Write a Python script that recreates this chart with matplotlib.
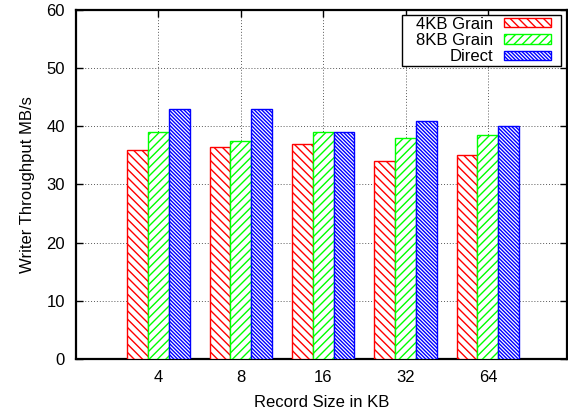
import numpy as np
import matplotlib
matplotlib.use('Agg')
import matplotlib.pyplot as plt
from matplotlib.path import Path

plt.rcParams['font.family'] = ['Liberation Sans', 'DejaVu Sans']
plt.rcParams['hatch.linewidth'] = 1.0

record_sizes = ['4', '8', '16', '32', '64']
grain_4kb = [36, 36.5, 37, 34, 35]
grain_8kb = [39, 37.5, 39, 38, 38.5]
direct = [43, 43, 39, 41, 40]

series = [
    ('4KB Grain', grain_4kb, 'red', '\\' * 4),
    ('8KB Grain', grain_8kb, '#00ff00', '/' * 4),
    ('Direct', direct, 'blue', '\\' * 9),
]

fig = plt.figure(figsize=(5.68, 4.16), dpi=100)
ax = fig.add_axes([76 / 568, 57 / 416, 491 / 568, 349 / 416])

x = np.arange(1, len(record_sizes) + 1)
width = 0.253
for i, (name, vals, col, hatch) in enumerate(series):
    ax.bar(x + (i - 1) * width, vals, width, facecolor='white', edgecolor=col,
           hatch=hatch, linewidth=1.0, label=name, zorder=3)

ax.set_xlim(0, 5.96)
ax.set_ylim(0, 60)
ax.set_xticks(x)
ax.set_xticklabels(record_sizes)
ax.set_yticks(range(0, 61, 10))

ax.grid(True, linestyle=(0, (1, 2)), color='0.35', linewidth=0.7, zorder=0)
ax.tick_params(direction='in', length=5, width=1, top=True, right=True,
               labelsize=12, colors='black')
ax.tick_params(axis='y', pad=8)
ax.tick_params(axis='x', pad=8)
for sp in ax.spines.values():
    sp.set_linewidth(1.6)

ax.set_xlabel('Record Size in KB', fontsize=12, labelpad=7)
ax.set_ylabel('Writer Throughput MB/s', fontsize=12, labelpad=8)


# gnuplot-like key box: more room left/right than top/bottom
def key_box(x0, y0, w, h, mutation_size):
    l, r = 12, 8
    return Path([(x0 - l, y0), (x0 + w + r, y0), (x0 + w + r, y0 + h),
                 (x0 - l, y0 + h), (x0 - l, y0)], closed=True)


leg = ax.legend(loc='upper right', bbox_to_anchor=(0.971, 0.9857),
                markerfirst=False, fancybox=False,
                framealpha=1, edgecolor='black', fontsize=12,
                handlelength=2.8, handleheight=0.5, handletextpad=0.7,
                labelspacing=0.08, borderpad=0.1, borderaxespad=0.0)
leg.get_frame().set_linewidth(1.0)
leg.get_frame().set_boxstyle(key_box)
leg._legend_handle_box.get_children()[0].align = 'right'
leg.set_zorder(5)

fig.savefig('out.png', dpi=100)
